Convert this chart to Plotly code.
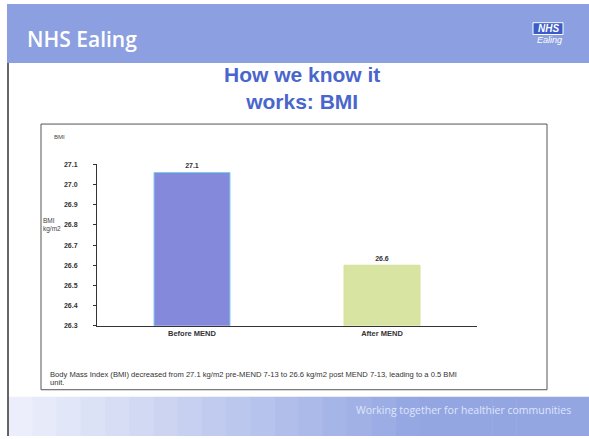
import plotly.graph_objects as go

categories = ["Before MEND", "After MEND"]
bmi_values = [27.06, 26.6]
bar_colors = ["#8589dc", "#d8e5a2"]
bar_edges = ["#7ad0e8", "#d9e096"]

W, H = 589, 439

def px(x):
    return x / W

def py(y):
    return 1 - y / H

fig = go.Figure()
fig.add_trace(go.Bar(
    x=categories, y=bmi_values,
    marker=dict(color=bar_colors, line=dict(color=bar_edges, width=1)),
    text=bmi_values, texttemplate="%{y:.1f}", textposition="outside",
    textfont=dict(size=7, color="#333333", family="Liberation Sans", weight="bold"),
    cliponaxis=False, width=0.4,
))

shapes = [
    dict(type="rect", xref="paper", yref="paper", x0=px(7), x1=1, y0=py(60), y1=1,
         fillcolor="#8c9fe0", line=dict(width=0), layer="below"),
]
# footer band: pale on the left, fading to blue on the right
n_strips = 24
c0 = (236, 239, 251)
c1 = (148, 166, 226)
x_start, x_end = 8, 589
for i in range(n_strips):
    t = i / (n_strips - 1)
    t = min(1.0, t * 1.4)
    col = tuple(int(round(a + (b - a) * t)) for a, b in zip(c0, c1))
    xa = x_start + (x_end - x_start) * i / n_strips
    xb = x_start + (x_end - x_start) * (i + 1) / n_strips + 0.5
    shapes.append(dict(type="rect", xref="paper", yref="paper", x0=px(xa), x1=px(xb),
                       y0=0, y1=py(399), fillcolor="rgb(%d,%d,%d)" % col,
                       line=dict(width=0), layer="below"))
shapes += [
    dict(type="line", xref="paper", yref="paper", x0=px(8), x1=px(8), y0=0, y1=py(60),
         line=dict(color="#333333", width=1.5)),
    dict(type="rect", xref="paper", yref="paper", x0=px(41), x1=px(547), y0=py(392), y1=py(122),
         line=dict(color="#555555", width=1), fillcolor="rgba(0,0,0,0)"),
    dict(type="rect", xref="paper", yref="paper", x0=px(533), x1=px(563), y0=py(31), y1=py(19),
         fillcolor="#3b5cc8", line=dict(color="white", width=1)),
]

annotations = [
    dict(text="NHS Ealing", x=px(25), y=py(36), xref="paper", yref="paper",
         xanchor="left", yanchor="middle", showarrow=False,
         font=dict(size=21, color="white", family="Open Sans", weight=600)),
    dict(text="<b><i>NHS</i></b>", x=px(548), y=py(25), xref="paper", yref="paper",
         xanchor="center", yanchor="middle", showarrow=False,
         font=dict(size=10, color="white", family="Liberation Sans")),
    dict(text="<i>Ealing</i>", x=px(549), y=py(37), xref="paper", yref="paper",
         xanchor="center", yanchor="middle", showarrow=False,
         font=dict(size=9, color="white", family="Liberation Sans")),
    dict(text="<b>How we know it<br>works: BMI</b>", x=px(302), y=py(85), xref="paper", yref="paper",
         xanchor="center", yanchor="middle", showarrow=False, align="center",
         font=dict(size=21, color="#4a66cc", family="Liberation Sans")),
    dict(text="BMI", x=px(52), y=py(135), xref="paper", yref="paper",
         xanchor="left", yanchor="middle", showarrow=False,
         font=dict(size=6, color="#444444", family="Liberation Sans")),
    dict(text="BMI<br>kg/m2", x=px(41), y=py(225), xref="paper", yref="paper",
         xanchor="left", yanchor="middle", showarrow=False, align="left",
         font=dict(size=6.5, color="#444444", family="Liberation Sans")),
    dict(text="Body Mass Index (BMI) decreased from 27.1 kg/m2 pre-MEND 7-13 to 26.6 kg/m2 post MEND 7-13, leading to a 0.5 BMI",
         x=px(48), y=py(377), xref="paper", yref="paper",
         xanchor="left", yanchor="middle", showarrow=False, align="left",
         font=dict(size=7.6, color="#333333", family="Liberation Sans")),
    dict(text="unit.",
         x=px(48), y=py(385), xref="paper", yref="paper",
         xanchor="left", yanchor="middle", showarrow=False, align="left",
         font=dict(size=7.6, color="#333333", family="Liberation Sans")),
    dict(text="Working together for healthier communities", x=px(463), y=py(413), xref="paper", yref="paper",
         xanchor="center", yanchor="middle", showarrow=False,
         font=dict(size=10.5, color="#dfe5fb", family="Open Sans")),
]

fig.update_layout(
    width=W, height=H,
    margin=dict(l=0, r=0, t=0, b=0),
    paper_bgcolor="white", plot_bgcolor="white",
    showlegend=False,
    bargap=0.6,
    shapes=shapes, annotations=annotations,
    xaxis=dict(domain=[px(97), px(477)], showline=True, linecolor="#333333", linewidth=1,
               ticks="", tickfont=dict(size=7.5, color="#333333", family="Liberation Sans", weight="bold"),
               showgrid=False, fixedrange=True),
    yaxis=dict(domain=[py(327), py(163)], range=[26.3, 27.1], dtick=0.1, tick0=26.3,
               tickformat=".1f", showline=True, linecolor="#333333", linewidth=1,
               ticks="outside", ticklen=3, tickcolor="#333333", ticklabelstandoff=14,
               tickfont=dict(size=7, color="#333333", family="Liberation Sans", weight="bold"),
               showgrid=False, zeroline=False, fixedrange=True),
)

fig.write_html(
    "out.html",
    config={"displayModeBar": False},
    post_script=(
        "document.body.style.margin='0';document.body.style.padding='0';"
        "document.body.style.overflow='hidden';"
        "var d=document.getElementById('{plot_id}');"
        "d.style.position='fixed';d.style.top='0px';d.style.left='0px';"
    ),
)
